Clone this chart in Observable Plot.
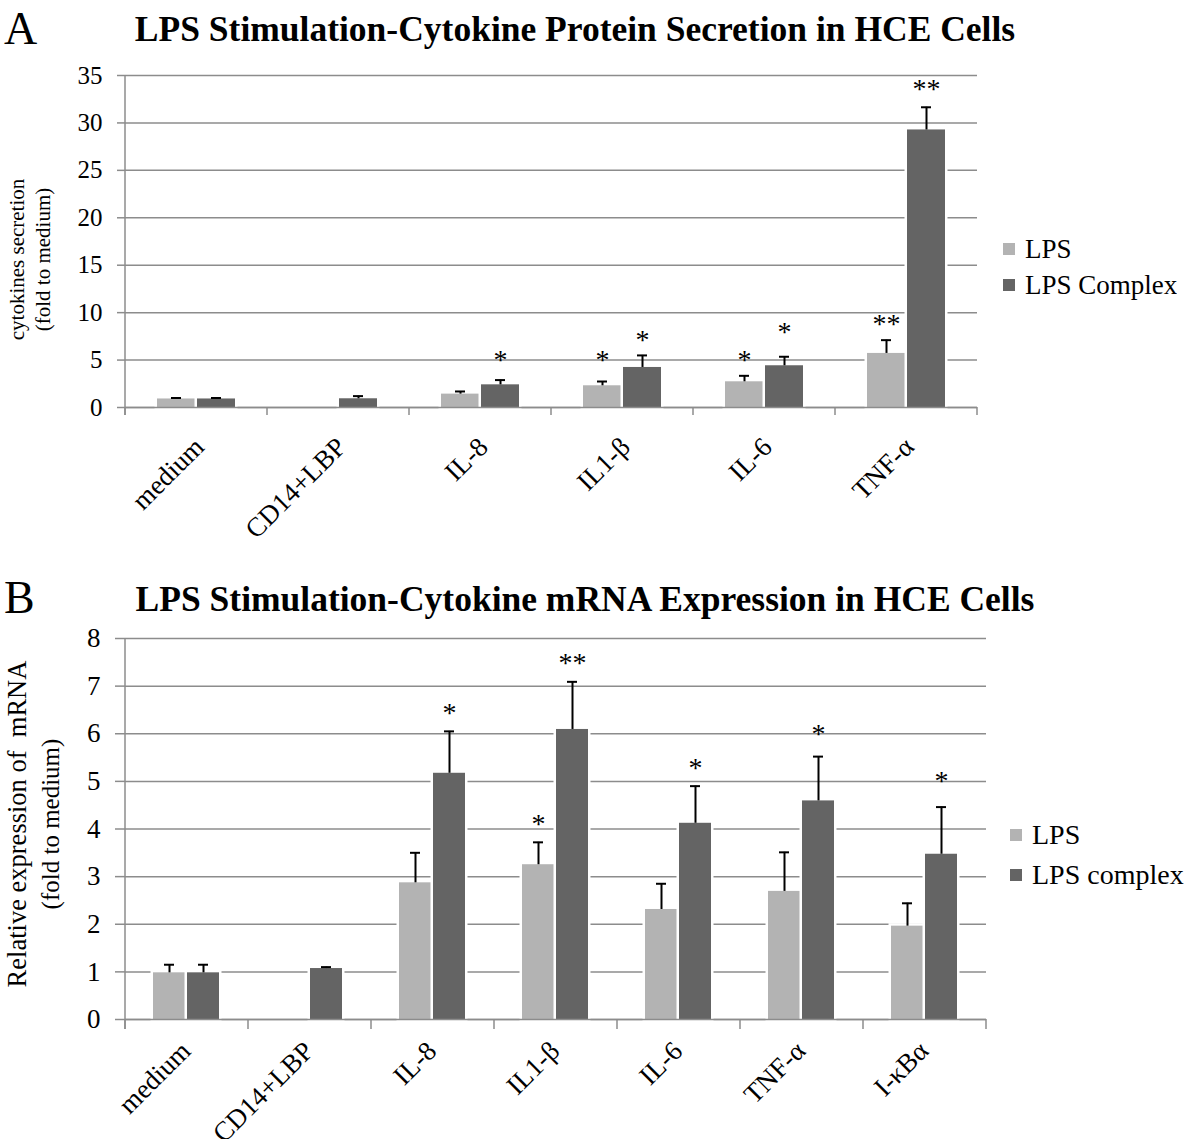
<!DOCTYPE html>
<html><head><meta charset="utf-8">
<script src="https://cdn.jsdelivr.net/npm/d3@7"></script>
<script src="https://cdn.jsdelivr.net/npm/@observablehq/plot@0.6"></script>
<style>
body{margin:0;background:#fff;}
#wrap{position:relative;width:1200px;height:1139px;overflow:hidden;font-family:"Liberation Serif","Times New Roman",serif;color:#000;background:#fff;}
.abs{position:absolute;white-space:pre;line-height:1;}
.title{font-weight:bold;font-size:35.5px;text-align:center;}
.ylab{transform:rotate(-90deg);text-align:center;}
.lega-swatches,.legb-swatches{font-family:"Liberation Serif","Times New Roman",serif !important;color:#000 !important;margin:0 !important;}
.lega-swatch,.legb-swatch{display:flex !important;align-items:center !important;padding:0 !important;}
.lega-swatch > svg,.legb-swatch > svg{margin-right:10px !important;}
.lega-swatches{font-size:27px !important;}
.lega-swatch{height:36px !important;}
.legb-swatches{font-size:28px !important;}
.legb-swatch{height:40px !important;}
</style></head><body><div id="wrap"></div>
<script>
// ---------- data ----------
const seriesA = ["LPS", "LPS Complex"];
const seriesB = ["LPS", "LPS complex"];
const barColors = ["#b3b3b3", "#646464"];

const catsA = ["medium", "CD14+LBP", "IL-8", "IL1-β", "IL-6", "TNF-α"];
const lpsA = [0.9, 0, 1.41, 2.29, 2.71, 5.7];
const lpsErrA = [0.1, 0, 0.28, 0.45, 0.63, 1.4];
const cplxA = [0.9, 0.92, 2.39, 4.22, 4.4, 29.26];
const cplxErrA = [0.1, 0.28, 0.5, 1.27, 0.95, 2.39];
const lpsSigA = ["", "", "", "*", "*", "**"];
const lpsSigPosA = [null, null, null, 5.45, 5.45, 9.25];
const cplxSigA = ["", "", "*", "*", "*", "**"];
const cplxSigPosA = [null, null, 5.45, 7.56, 8.4, 34.0];
const yTicksA = [0, 5, 10, 15, 20, 25, 30, 35];

const catsB = ["medium", "CD14+LBP", "IL-8", "IL1-β", "IL-6", "TNF-α", "I-κBα"];
const lpsB = [0.98, 0, 2.87, 3.25, 2.31, 2.69, 1.96];
const lpsErrB = [0.17, 0, 0.63, 0.47, 0.54, 0.82, 0.48];
const cplxB = [0.98, 1.07, 5.17, 6.09, 4.12, 4.59, 3.47];
const cplxErrB = [0.17, 0.03, 0.88, 1.0, 0.78, 0.93, 0.99];
const lpsSigB = ["", "", "", "*", "", "", ""];
const lpsSigPosB = [null, null, null, 4.18, null, null, null];
const cplxSigB = ["", "", "*", "**", "*", "*", "*"];
const cplxSigPosB = [null, null, 6.51, 7.56, 5.36, 6.07, 5.09];
const yTicksB = [0, 1, 2, 3, 4, 5, 6, 7, 8];

// ---------- helpers ----------
const FONT = '"Liberation Serif","Times New Roman",serif';
const AXIS = "#8c8c8c";
const wrap = document.getElementById("wrap");

function tidy(cats, series, vals, errs, sigs, sigPos) {
  return cats.flatMap((c, i) => series.map((s, j) => ({
    cat: c, series: s, value: vals[j][i], err: errs[j][i], sig: sigs[j][i], sigY: sigPos[j][i]
  })));
}

function addDiv(cls, text, css) {
  const d = document.createElement("div");
  d.className = "abs " + cls;
  d.textContent = text;
  Object.assign(d.style, css);
  wrap.appendChild(d);
  return d;
}

function panel(o) {
  const rows = o.rows;
  const withErr = rows.filter(d => d.err > 0);
  const withSig = rows.filter(d => d.sig);
  const chart = Plot.plot({
    width: 1200, height: o.height,
    marginTop: o.mt, marginBottom: o.mb, marginLeft: o.ml, marginRight: o.mr,
    style: {fontFamily: FONT, fontSize: o.fs + "px", color: "#000", background: "transparent", overflow: "visible"},
    fx: {domain: o.cats, padding: 0, label: null},
    x: {domain: o.series, axis: null, paddingInner: o.padIn, paddingOuter: o.padOut},
    y: {domain: [0, o.yMax], label: null},
    color: {domain: o.series, range: barColors},
    marks: [
      Plot.gridY(o.yTicks, {stroke: AXIS, strokeOpacity: 1, strokeWidth: 1.5}),
      Plot.axisY(o.yTicks, {tickSize: o.tickSize, tickFormat: () => "", stroke: AXIS, strokeWidth: 1.5, label: null}),
      Plot.axisY(o.yTicks, {tickSize: 0, tickPadding: o.tickSize + o.tickPad, fontSize: o.fs, label: null, fill: "#000"}),
      Plot.barY(rows, {fx: "cat", x: "series", y: "value", fill: "series", stroke: "white", strokeWidth: 5, paintOrder: "stroke"}),
      Plot.ruleY([0], {stroke: AXIS, strokeWidth: 1.5}),
      Plot.ruleX(withErr, {fx: "cat", x: "series", y1: "value", y2: d => d.value + d.err, stroke: "#000", strokeWidth: 2}),
      Plot.tickY(withErr, {fx: "cat", x: "series", y: d => d.value + d.err, stroke: "#000", strokeWidth: 2, insetLeft: o.capInset, insetRight: o.capInset}),
      Plot.text(withSig, {fx: "cat", x: "series", y: "sigY", text: "sig", fontSize: o.starFs, dy: 4, fill: "#000"}),
      Plot.axisFx({anchor: "bottom", tickSize: 0, tickPadding: o.labPad, tickRotate: -45, dx: o.labDx, fontSize: o.catFs, label: null, fill: "#000"})
    ]
  });
  // category boundary ticks and the y axis line, placed from the library's own scales
  const fx = chart.scale("fx"), y = chart.scale("y");
  const y0 = y.apply(0), yTop = y.apply(o.yMax);
  const xs = o.cats.map(c => fx.apply(c)).concat([fx.apply(o.cats[o.cats.length - 1]) + fx.bandwidth]);
  const svg = d3.select(chart);
  const g = svg.append("g").attr("stroke", AXIS).attr("stroke-width", 1.5);
  g.append("line").attr("x1", xs[0]).attr("x2", xs[0]).attr("y1", yTop).attr("y2", y0 + o.tickSize);
  g.selectAll("line.b").data(xs).join("line").attr("class", "b")
    .attr("x1", d => d).attr("x2", d => d).attr("y1", y0).attr("y2", y0 + o.tickSize);
  chart.style.position = "absolute";
  chart.style.left = "0px";
  chart.style.top = o.top + "px";
  wrap.appendChild(chart);

  const leg = Plot.legend({color: {domain: o.series, range: barColors}, legend: "swatches", columns: 1, swatchSize: 12, className: o.legClass});
  const lw = document.createElement("div");
  Object.assign(lw.style, {position: "absolute", left: o.legX + "px", top: o.legY + "px", zIndex: 5});
  lw.appendChild(leg);
  wrap.appendChild(lw);
}

// ---------- panel A ----------
panel({
  rows: tidy(catsA, seriesA, [lpsA, cplxA], [lpsErrA, cplxErrA], [lpsSigA, cplxSigA], [lpsSigPosA, cplxSigPosA]),
  cats: catsA, series: seriesA, yMax: 35, yTicks: yTicksA,
  top: 0, height: 540, mt: 75, mb: 133, ml: 124, mr: 222,
  fs: 25, catFs: 27, starFs: 28, tickSize: 8, tickPad: 15,
  padIn: 0.05, padOut: 0.76, capInset: 14, labPad: 35, labDx: 3,
  legClass: "lega", legX: 1003, legY: 231
});
// ---------- panel B ----------
panel({
  rows: tidy(catsB, seriesB, [lpsB, cplxB], [lpsErrB, cplxErrB], [lpsSigB, cplxSigB], [lpsSigPosB, cplxSigPosB]),
  cats: catsB, series: seriesB, yMax: 8, yTicks: yTicksB,
  top: 560, height: 579, mt: 78, mb: 120, ml: 123, mr: 212,
  fs: 27, catFs: 27, starFs: 28, tickSize: 10, tickPad: 15,
  padIn: 0.057, padOut: 0.795, capInset: 11, labPad: 27, labDx: -1,
  legClass: "legb", legX: 1010, legY: 815
});

// ---------- titles and axis labels ----------
addDiv("", "A", {left: "4px", top: "2px", fontSize: "46px", lineHeight: "normal"});
addDiv("title", "LPS Stimulation-Cytokine Protein Secretion in HCE Cells", {left: "0px", width: "1150px", top: "12px"});
addDiv("", "B", {left: "4px", top: "571px", fontSize: "46px", lineHeight: "normal"});
addDiv("title", "LPS Stimulation-Cytokine mRNA Expression in HCE Cells", {left: "0px", width: "1170px", top: "582px"});

function ylab(text, cx, cy, fs) {
  const w = 420, h = Math.round(fs * 1.2);
  addDiv("ylab", text, {left: (cx - w / 2) + "px", top: (cy - h / 2) + "px", width: w + "px", height: h + "px", lineHeight: h + "px", fontSize: fs + "px"});
}
ylab("cytokines secretion", 17, 259, 21);
ylab("(fold to medium)", 43, 259, 21);
ylab("Relative expression of  mRNA", 17, 824, 26.5);
ylab("(fold to medium)", 51, 824, 25);
</script></body></html>
